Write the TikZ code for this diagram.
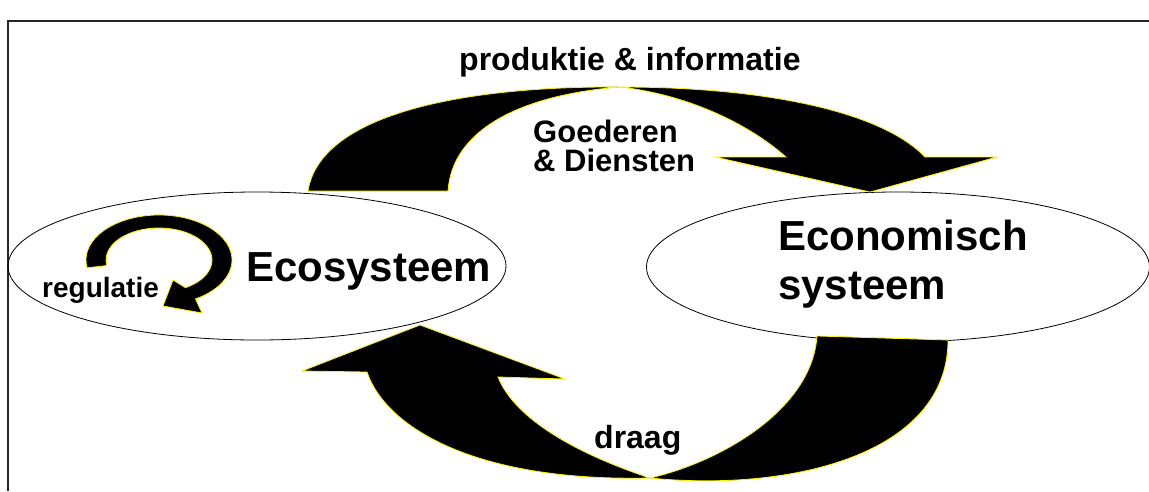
\documentclass[tikz,border=0pt]{standalone}
\usepackage{fontspec}
\setmainfont{Liberation Sans}
\usetikzlibrary{shapes.geometric}

\begin{document}
\begin{tikzpicture}[x=1pt, y=-1pt,
	band/.style={fill=black, draw=yellow, line width=0.8pt},
	sys/.style={ellipse, draw=black, line width=0.8pt, inner sep=0pt},
	lbl/.style={anchor=base west, inner sep=0pt, align=left, font=\bfseries\fontsize{#1}{#1}\selectfont}]
	\useasboundingbox (0,0) rectangle (1149,491);
	\draw[line width=2pt, black!85] (8,491) -- (8,21) -- (1149,21);

	\node[sys, minimum width=498pt, minimum height=148pt] (eco) at (257,266) {};
	\node[sys, minimum width=503pt, minimum height=150pt] (econ) at (898,267) {};

	\path[band] (308,191) .. controls (320,115) and (460,86) .. (620,87)
	  .. controls (760,87) and (880,110) .. (925,157)
	  -- ++(72,0)
	  -- (870,192)
	  -- (715,157)
	  -- ++(71,0)
	  .. controls (750,125) and (690,95) .. (620,87)
	  .. controls (520,95) and (452,130) .. (448,191)
	  -- cycle;

	\path[band] (817,336) -- (948,340)
	  .. controls (948,455) and (790,492) .. (650,478)
	  .. controls (580,455) and (515,420) .. (498,377)
	  -- ++(67,2)
	  -- (420,325)
	  -- (302,371)
	  -- ++(65,1)
	  .. controls (385,425) and (470,482) .. (650,478)
	  .. controls (720,462) and (812,410) .. (817,336)
	  -- cycle;

	\path[band] (87.1,267.8) arc[start angle=170, end angle=420, x radius=73, y radius=45]
	  -- (202,313)
	  -- (163,306)
	  -- (173,280)
	  -- (185.5,287.7) arc[start angle=420, end angle=170, x radius=53, y radius=32]
	  -- cycle;

	\node[lbl=32] (prod) at (459,70) {produktie \& informatie};
	\node[lbl=31] (goed) at (533,171) {Goederen\\[-2pt]\& Diensten};
	\node[lbl=42] (ecot) at (246,281) {Ecosysteem};
	\node[lbl=42] (econt) at (778,299) {Economisch\\[7pt]systeem};
	\node[lbl=28] (reg) at (42,297) {regulatie};
	\node[lbl=32] (draag) at (594,448) {draag};
\end{tikzpicture}
\end{document}
